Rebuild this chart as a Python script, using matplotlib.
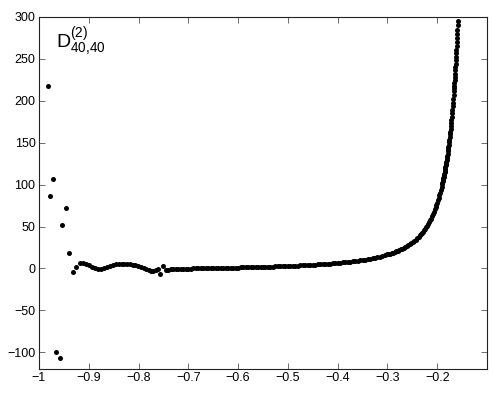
import matplotlib
matplotlib.use("Agg")
import matplotlib.pyplot as plt
from matplotlib.ticker import FixedLocator, FixedFormatter

plt.rcParams['font.family'] = ['Liberation Sans', 'DejaVu Sans']
plt.rcParams['mathtext.fontset'] = 'custom'
plt.rcParams['mathtext.rm'] = 'Liberation Sans'
plt.rcParams['mathtext.it'] = 'Liberation Sans:italic'
plt.rcParams['mathtext.sf'] = 'Liberation Sans'

# --- data -------------------------------------------------------------------
# isolated / oscillating points at the left end
x_left = [-0.9829, -0.9775, -0.9715, -0.9655, -0.9588, -0.9534, -0.9467,
          -0.9393, -0.9326, -0.9252, -0.9178, -0.9115, -0.9055, -0.8995,
          -0.8935, -0.8875, -0.8815, -0.8755, -0.8695, -0.8635, -0.8575,
          -0.8515, -0.8455, -0.8395, -0.8340, -0.8285, -0.8230, -0.8175,
          -0.8120, -0.8065, -0.8010, -0.7955, -0.7900, -0.7850, -0.7800,
          -0.7750, -0.7700, -0.7650, -0.7605, -0.7560, -0.7505, -0.7455]
y_left = [217.4, 85.9, 107.1, -99.2, -106.4, 51.9, 71.9,
          18.0, -4.8, 1.9, 6.4, 6.2, 5.3, 4.0,
          2.3, 0.6, -0.4, -0.1, 1.0, 2.3, 3.4,
          4.3, 5.0, 5.4, 5.6, 5.6, 5.4, 5.0,
          4.4, 3.6, 2.6, 1.4, 0.2, -0.9, -1.9,
          -2.6, -2.8, -2.2, -0.6, -6.8, 2.8, -1.8]

# slowly rising flat part
x_flat = [-0.740, -0.735, -0.730, -0.725, -0.720, -0.715, -0.710, -0.705,
          -0.700, -0.695, -0.690, -0.685, -0.680, -0.675, -0.670, -0.665,
          -0.660, -0.655, -0.650, -0.645, -0.640, -0.635, -0.630, -0.625,
          -0.620, -0.615, -0.610, -0.605, -0.600, -0.595, -0.590, -0.585,
          -0.580, -0.575, -0.570, -0.565, -0.560, -0.555, -0.550, -0.545,
          -0.540, -0.535, -0.530, -0.525, -0.520, -0.515, -0.510, -0.505,
          -0.500, -0.495, -0.490, -0.485, -0.480, -0.475, -0.470, -0.465,
          -0.460, -0.455, -0.450, -0.445, -0.440, -0.435, -0.430, -0.425,
          -0.420, -0.415, -0.410, -0.405, -0.400, -0.395, -0.390, -0.385,
          -0.380, -0.375, -0.370, -0.365, -0.360, -0.355, -0.350, -0.345,
          -0.340, -0.335, -0.330, -0.325, -0.320, -0.315, -0.310, -0.305,
          -0.300]
y_flat = [-1.30, -1.10, -0.90, -0.75, -0.60, -0.45, -0.35, -0.25,
          -0.15, -0.10, -0.05, 0.00, 0.06, 0.11, 0.17, 0.23,
          0.29, 0.34, 0.40, 0.46, 0.53, 0.59, 0.65, 0.71,
          0.78, 0.85, 0.92, 0.99, 1.06, 1.13, 1.21, 1.29,
          1.37, 1.45, 1.53, 1.61, 1.70, 1.79, 1.88, 1.97,
          2.07, 2.17, 2.27, 2.37, 2.48, 2.59, 2.70, 2.82,
          2.94, 3.06, 3.19, 3.33, 3.47, 3.61, 3.76, 3.91,
          4.07, 4.23, 4.40, 4.58, 4.77, 4.96, 5.16, 5.37,
          5.59, 5.82, 6.06, 6.31, 6.57, 6.84, 7.13, 7.44,
          7.76, 8.09, 8.45, 8.83, 9.23, 9.65, 10.10, 10.57,
          11.08, 11.61, 12.19, 12.81, 13.47, 14.17, 14.94, 15.76,
          16.64]

# steep rise towards the right
x_rise = [-0.2976, -0.2946, -0.2916, -0.2886, -0.2856, -0.2826, -0.2796,
          -0.2766, -0.2736, -0.2706, -0.2676, -0.2646, -0.2616, -0.2586,
          -0.2556, -0.2526, -0.2496, -0.2466, -0.2436, -0.2406, -0.2376,
          -0.2346, -0.2326, -0.2306, -0.2286, -0.2266, -0.2246, -0.2226,
          -0.2206, -0.2186, -0.2166, -0.2146, -0.2126, -0.2106, -0.2086,
          -0.2066, -0.2046, -0.2031, -0.2016, -0.2001, -0.1986, -0.1971,
          -0.1956, -0.1941, -0.1926, -0.1911, -0.1900, -0.1894, -0.1888,
          -0.1882, -0.1876, -0.1870, -0.1864, -0.1858, -0.1852, -0.1846,
          -0.1840, -0.1834, -0.1828, -0.1822, -0.1816, -0.1810, -0.1804,
          -0.1798, -0.1792, -0.1786, -0.1780, -0.1774, -0.1768, -0.1762,
          -0.1756, -0.1750, -0.1744, -0.1738, -0.1732, -0.1726, -0.1720,
          -0.1714, -0.1708, -0.1702, -0.1696, -0.1690, -0.1684, -0.1678,
          -0.1672, -0.1666, -0.1662, -0.1658, -0.1654, -0.1650, -0.1646,
          -0.1642, -0.1638, -0.1634, -0.1630, -0.1626, -0.1622, -0.1618,
          -0.1614, -0.1610, -0.1606, -0.1602, -0.1598, -0.1594, -0.1590,
          -0.1586]
y_rise = [17.08, 17.65, 18.26, 18.89, 19.56, 20.27, 21.01,
          21.80, 22.63, 23.50, 24.44, 25.42, 26.47, 27.58,
          28.77, 30.04, 31.39, 32.83, 34.37, 36.03, 37.81,
          39.72, 41.08, 42.51, 44.01, 45.60, 47.27, 49.04,
          50.91, 52.88, 54.98, 57.20, 59.56, 62.07, 64.74,
          67.58, 70.62, 73.03, 75.57, 78.25, 81.07, 84.04,
          87.18, 90.50, 94.02, 97.74, 100.61, 102.23, 103.89,
          105.59, 107.34, 109.12, 110.95, 112.83, 114.76, 116.73,
          118.76, 120.84, 122.98, 125.17, 127.42, 129.73, 132.11,
          134.56, 137.07, 139.65, 142.30, 145.04, 147.85, 150.74,
          153.72, 156.79, 159.95, 163.21, 166.57, 170.04, 173.61,
          177.30, 181.10, 185.03, 189.09, 193.28, 197.62, 202.10,
          206.74, 211.54, 214.83, 218.20, 221.65, 225.18, 228.80,
          232.51, 236.30, 240.19, 244.18, 248.26, 252.45, 256.75,
          261.16, 265.68, 270.32, 275.08, 279.98, 285.00, 290.16,
          295.45]

x_ticks = [-1.0, -0.9, -0.8, -0.7, -0.6, -0.5, -0.4, -0.3, -0.2]
x_tick_labels = ['\u22121', '\u22120.9', '\u22120.8', '\u22120.7', '\u22120.6',
                 '\u22120.5', '\u22120.4', '\u22120.3', '\u22120.2']
y_ticks = [-100, -50, 0, 50, 100, 150, 200, 250, 300]
y_tick_labels = ['\u2212100', '\u221250', '0', '50', '100', '150', '200',
                 '250', '300']

# --- figure ------------------------------------------------------------------
fig = plt.figure(figsize=(4.94, 3.96), dpi=100)
ax = fig.add_axes([39 / 494, 1 - 369 / 396, 448 / 494, 352 / 396])

for xs, ys in ((x_left, y_left), (x_flat, y_flat), (x_rise, y_rise)):
    ax.plot(xs, ys, linestyle='none', marker='o', markersize=3.6,
            markerfacecolor='black', markeredgewidth=0, color='black')

ax.set_xlim(-1.0, -0.1)
ax.set_ylim(-120, 300)

ax.xaxis.set_major_locator(FixedLocator(x_ticks))
ax.xaxis.set_major_formatter(FixedFormatter(x_tick_labels))
ax.yaxis.set_major_locator(FixedLocator(y_ticks))
ax.yaxis.set_major_formatter(FixedFormatter(y_tick_labels))

ax.tick_params(axis='both', which='major', direction='in', length=4,
               width=0.6, color='#555555', labelsize=9, pad=2.5,
               top=True, right=True, labelcolor='black')
for s in ax.spines.values():
    s.set_linewidth(0.8)
    s.set_color('#222222')

ax.text(0.038, 0.912, r'$\mathrm{D}^{(2)}_{40{,}40}$', transform=ax.transAxes,
        fontsize=14, va='baseline', ha='left')

fig.savefig('out.png', dpi=100)
